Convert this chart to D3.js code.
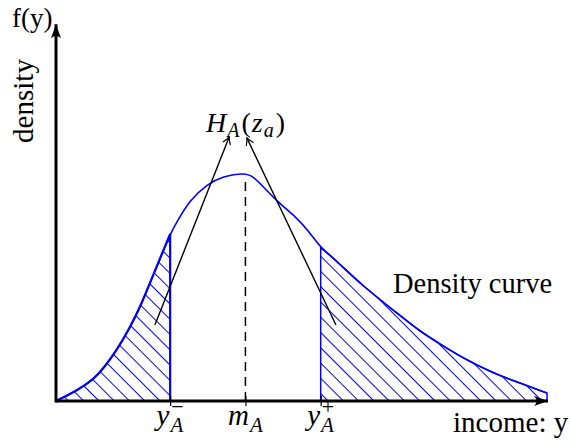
<!DOCTYPE html>
<html>
<head>
<meta charset="utf-8">
<script src="https://cdn.jsdelivr.net/npm/d3@7"></script>
<style>
  body { margin: 0; background: #fff; }
  svg text { font-family: "Liberation Serif", "Times New Roman", serif; fill: #000; }
</style>
</head>
<body>
<svg id="chart" width="570" height="440"></svg>
<script>
// income (x) and density (f(y))
const incomes = [0, 4.2, 7.5, 9.6, 12.4, 15.0, 17.1, 19.1, 21.1, 23.2, 24.6, 27.2, 30.7, 33.9, 38.4,
	40.0, 42.1, 44.9, 49.0, 51.6, 53.8, 56.3, 62.4, 69.3, 74.0, 78.0, 82.7, 88.8, 94.3, 99.8];
const densities = [0, 0.045, 0.093, 0.142, 0.225, 0.322, 0.414, 0.52, 0.625, 0.736, 0.79, 0.885, 0.955, 0.99, 1.005,
	0.99, 0.945, 0.88, 0.806, 0.742, 0.675, 0.632, 0.505, 0.388, 0.306, 0.252, 0.189, 0.123, 0.079, 0.035];

// cut points on the income axis
const yMinus = 23.2;
const mA = 38.5;
const yPlus = 53.8;
const tickValues = [yMinus, mA, yPlus];
const tickLabels = [["y", "A", "\u2212"], ["m", "A", ""], ["y", "A", "+"]];

// the two arrows pointing at H_A(z_a): [x1, d1, x2, d2]
const pointers = [[20.1, 0.335, 35.2, 1.163], [56.9, 0.335, 38.8, 1.159]];

const blue = "#0000ff";

let data = incomes.map((x, i) => ({ x: x, d: densities[i] }));

let svg = d3.select("#chart");

// scales
let xScale = d3.scaleLinear().domain([0, 100]).range([56, 548]);
let yScale = d3.scaleLinear().domain([0, 1]).range([401, 174]);

// markers / hatch
let defs = svg.append("defs");

defs.append("pattern")
	.attr("id", "hatch")
	.attr("patternUnits", "userSpaceOnUse")
	.attr("width", 10.8)
	.attr("height", 10.8)
	.attr("patternTransform", "rotate(-45)")
	.append("line")
	.attr("x1", 2).attr("y1", -1)
	.attr("x2", 2).attr("y2", 11.8)
	.attr("stroke", blue)
	.attr("stroke-width", 1)
	.attr("shape-rendering", "crispEdges");

defs.append("marker")
	.attr("id", "axisArrow")
	.attr("markerUnits", "userSpaceOnUse")
	.attr("viewBox", "-15 -6 16 12")
	.attr("refX", 0).attr("refY", 0)
	.attr("markerWidth", 16).attr("markerHeight", 12)
	.attr("orient", "auto")
	.append("path")
	.attr("d", "M0,0 L-14,-5 Q-9,0 -14,5 Z")
	.attr("fill", "#000");

defs.append("marker")
	.attr("id", "smallArrow")
	.attr("markerUnits", "userSpaceOnUse")
	.attr("viewBox", "-9 -5 10 10")
	.attr("refX", 0).attr("refY", 0)
	.attr("markerWidth", 10).attr("markerHeight", 10)
	.attr("orient", "auto")
	.append("path")
	.attr("d", "M-7,-4 Q-3,-1 0,0 Q-3,1 -7,4")
	.attr("fill", "none")
	.attr("stroke", "#000")
	.attr("stroke-width", 1.2);

let area = d3.area()
	.x(d => xScale(d.x))
	.y0(yScale(0))
	.y1(d => yScale(d.d))
	.curve(d3.curveBasis);

let line = d3.line()
	.x(d => xScale(d.x))
	.y(d => yScale(d.d))
	.curve(d3.curveBasis);

// shaded tails
let leftTail = data.filter(d => d.x <= yMinus);
let rightTail = data.filter(d => d.x >= yPlus);

svg.append("path")
	.datum(leftTail)
	.attr("d", area)
	.attr("fill", "url(#hatch)")
	.attr("stroke", blue)
	.attr("stroke-width", 2.2);

svg.append("path")
	.datum(rightTail)
	.attr("d", area)
	.attr("fill", "url(#hatch)")
	.attr("stroke", blue)
	.attr("stroke-width", 1.5);

// density curve
svg.append("path")
	.datum(data)
	.attr("d", line)
	.attr("fill", "none")
	.attr("stroke", blue)
	.attr("stroke-width", 1.6);

// dashed line at m_A
let peak = data.find(d => d.x === 38.4);
svg.append("line")
	.attr("x1", xScale(mA)).attr("x2", xScale(mA))
	.attr("y1", yScale(0)).attr("y2", yScale(peak.d) + 4)
	.attr("stroke", "#000")
	.attr("stroke-width", 1.5)
	.attr("stroke-dasharray", "9,6");

// axes
svg.append("line")
	.attr("x1", xScale(0)).attr("x2", xScale(100))
	.attr("y1", yScale(0)).attr("y2", yScale(0))
	.attr("stroke", "#000")
	.attr("stroke-width", 3)
	.attr("marker-end", "url(#axisArrow)");

svg.append("line")
	.attr("x1", xScale(0)).attr("x2", xScale(0))
	.attr("y1", yScale(0) + 1.5).attr("y2", yScale(1.66))
	.attr("stroke", "#000")
	.attr("stroke-width", 3)
	.attr("marker-end", "url(#axisArrow)");

// ticks
let xAxis = svg.append("g")
	.attr("transform", "translate(0," + (yScale(0) - 5) + ")")
	.call(d3.axisBottom(xScale).tickValues(tickValues).tickSize(10).tickFormat(""));
xAxis.select(".domain").remove();
xAxis.selectAll(".tick line").attr("stroke", "#000").attr("stroke-width", 1.2);

// tick labels (math)
tickValues.forEach((v, i) => {
	let lab = tickLabels[i];
	let t = svg.append("text")
		.attr("x", xScale(v))
		.attr("y", 425)
		.attr("text-anchor", "middle")
		.attr("font-size", 29)
		.attr("font-style", "italic");
	t.append("tspan").text(lab[0]);
	t.append("tspan").attr("font-size", 21).attr("dx", 1).attr("dy", 7).text(lab[1]);
	if (lab[2]) {
		// superscript stacked over the subscript
		t.append("tspan").attr("font-size", 22).attr("font-style", "normal")
			.attr("dx", -12).attr("dy", -18).text(lab[2]);
	}
});

// pointer arrows
pointers.forEach(p => {
	svg.append("line")
		.attr("x1", xScale(p[0])).attr("y1", yScale(p[1]))
		.attr("x2", xScale(p[2])).attr("y2", yScale(p[3]))
		.attr("stroke", "#000")
		.attr("stroke-width", 1.4)
		.attr("marker-end", "url(#smallArrow)");
});

// H_A(z_a)
let h = svg.append("text")
	.attr("x", xScale(30.5))
	.attr("y", yScale(1.185))
	.attr("font-size", 28);
h.append("tspan").attr("font-style", "italic").text("H");
h.append("tspan").attr("font-style", "italic").attr("font-size", 20).attr("dx", 1).attr("dy", 5).text("A");
h.append("tspan").attr("dx", 2).attr("dy", -5).text("(");
h.append("tspan").attr("font-style", "italic").attr("dx", 1).text("z");
h.append("tspan").attr("font-style", "italic").attr("font-size", 20).attr("dx", 1).attr("dy", 5).text("a");
h.append("tspan").attr("dx", 2).attr("dy", -5).text(")");

// other labels
svg.append("text")
	.attr("x", xScale(68.5))
	.attr("y", yScale(0.476))
	.attr("font-size", 28.5)
	.text("Density curve");

svg.append("text")
	.attr("x", xScale(80.7))
	.attr("y", yScale(-0.137))
	.attr("font-size", 29)
	.text("income: y");

svg.append("text")
	.attr("x", 12)
	.attr("y", 27)
	.attr("font-size", 27)
	.text("f(y)");

svg.append("text")
	.attr("transform", "translate(33,101) rotate(-90)")
	.attr("text-anchor", "middle")
	.attr("font-size", 29)
	.text("density");
</script>
</body>
</html>
